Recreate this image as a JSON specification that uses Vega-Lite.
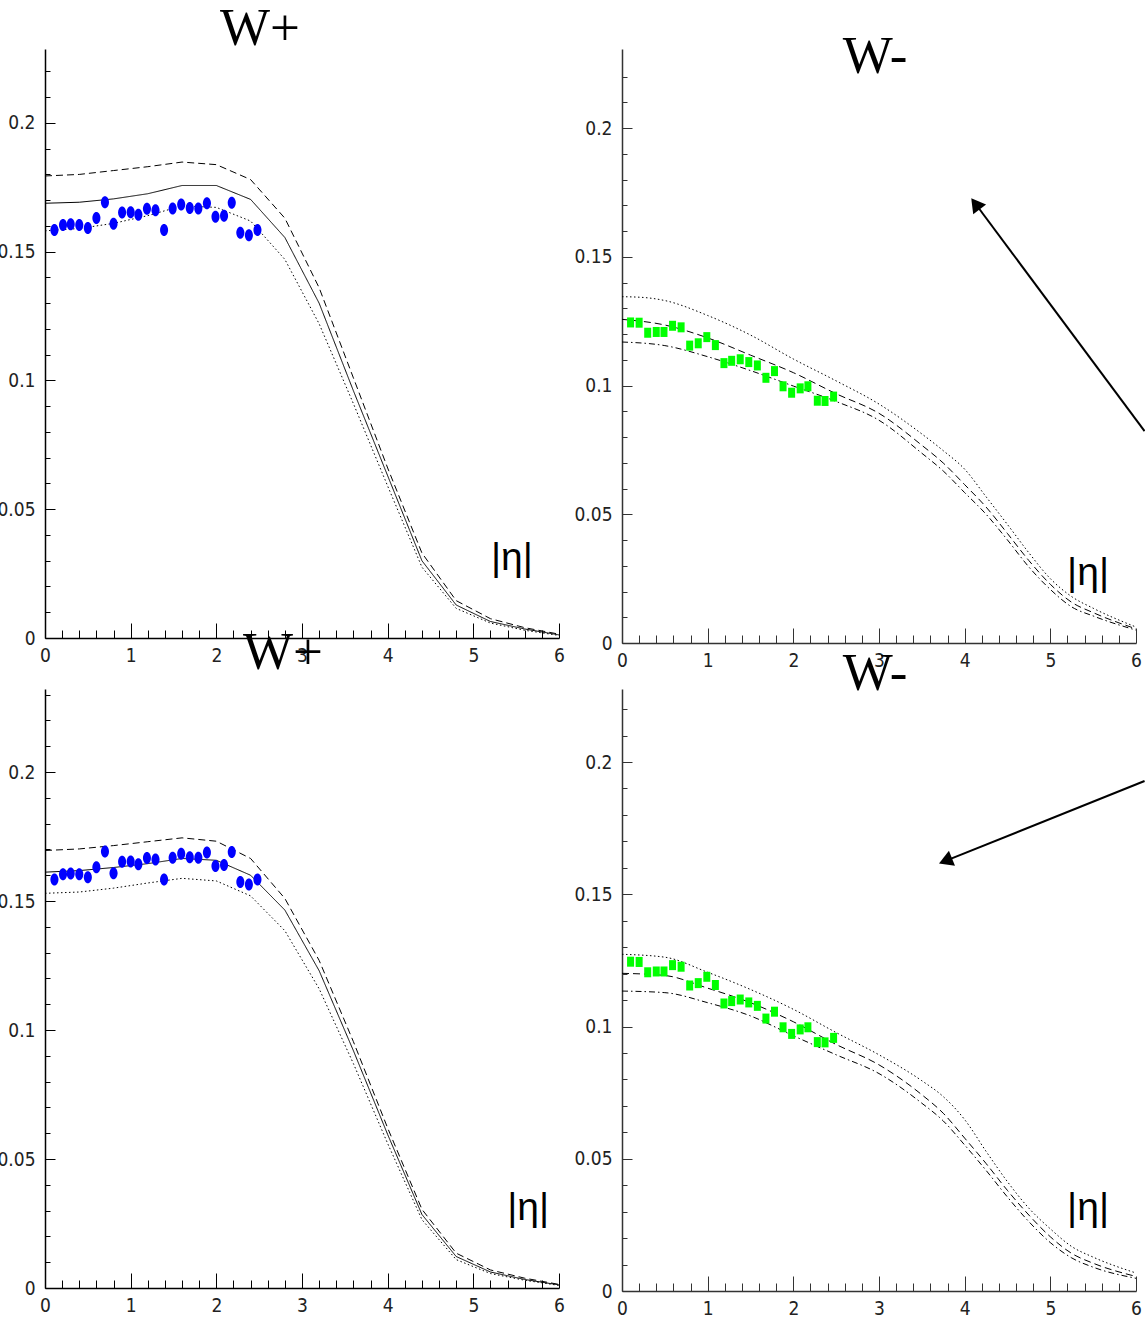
{
  "$schema": "https://vega.github.io/schema/vega-lite/v6.json",
  "padding": {"left": -4, "top": 3, "right": 0, "bottom": 0},
  "bounds": "flush",
  "columns": 2,
  "spacing": {"row": 46, "column": 63},
  "config": {"view": {"stroke": null}},
  "datasets": {
    "curves": [
      {"panel":"TL","series":"solid","eta":0,"v":0.1688},{"panel":"TL","series":"solid","eta":0.4,"v":0.1692},{"panel":"TL","series":"solid","eta":0.8,"v":0.1705},{"panel":"TL","series":"solid","eta":1.2,"v":0.1725},{"panel":"TL","series":"solid","eta":1.6,"v":0.1757},{"panel":"TL","series":"solid","eta":2.0,"v":0.1757},{"panel":"TL","series":"solid","eta":2.4,"v":0.1703},{"panel":"TL","series":"solid","eta":2.8,"v":0.1555},{"panel":"TL","series":"solid","eta":3.2,"v":0.130},{"panel":"TL","series":"solid","eta":3.6,"v":0.096},{"panel":"TL","series":"solid","eta":4.0,"v":0.063},{"panel":"TL","series":"solid","eta":4.4,"v":0.030},{"panel":"TL","series":"solid","eta":4.8,"v":0.0128},{"panel":"TL","series":"solid","eta":5.2,"v":0.0064},{"panel":"TL","series":"solid","eta":5.6,"v":0.0035},{"panel":"TL","series":"solid","eta":6.0,"v":0.0012},
      {"panel":"TL","series":"dashed","eta":0,"v":0.1794},{"panel":"TL","series":"dashed","eta":0.4,"v":0.18},{"panel":"TL","series":"dashed","eta":0.8,"v":0.1815},{"panel":"TL","series":"dashed","eta":1.2,"v":0.183},{"panel":"TL","series":"dashed","eta":1.6,"v":0.1848},{"panel":"TL","series":"dashed","eta":2.0,"v":0.1838},{"panel":"TL","series":"dashed","eta":2.4,"v":0.178},{"panel":"TL","series":"dashed","eta":2.8,"v":0.163},{"panel":"TL","series":"dashed","eta":3.2,"v":0.136},{"panel":"TL","series":"dashed","eta":3.6,"v":0.101},{"panel":"TL","series":"dashed","eta":4.0,"v":0.066},{"panel":"TL","series":"dashed","eta":4.4,"v":0.033},{"panel":"TL","series":"dashed","eta":4.8,"v":0.0145},{"panel":"TL","series":"dashed","eta":5.2,"v":0.0075},{"panel":"TL","series":"dashed","eta":5.6,"v":0.004},{"panel":"TL","series":"dashed","eta":6.0,"v":0.0015},
      {"panel":"TL","series":"dotted","eta":0,"v":0.1581},{"panel":"TL","series":"dotted","eta":0.4,"v":0.159},{"panel":"TL","series":"dotted","eta":0.8,"v":0.161},{"panel":"TL","series":"dotted","eta":1.2,"v":0.164},{"panel":"TL","series":"dotted","eta":1.6,"v":0.1678},{"panel":"TL","series":"dotted","eta":2.0,"v":0.1672},{"panel":"TL","series":"dotted","eta":2.4,"v":0.1619},{"panel":"TL","series":"dotted","eta":2.8,"v":0.147},{"panel":"TL","series":"dotted","eta":3.2,"v":0.122},{"panel":"TL","series":"dotted","eta":3.6,"v":0.091},{"panel":"TL","series":"dotted","eta":4.0,"v":0.059},{"panel":"TL","series":"dotted","eta":4.4,"v":0.0275},{"panel":"TL","series":"dotted","eta":4.8,"v":0.0115},{"panel":"TL","series":"dotted","eta":5.2,"v":0.0058},{"panel":"TL","series":"dotted","eta":5.6,"v":0.003},{"panel":"TL","series":"dotted","eta":6.0,"v":0.001},
      {"panel":"BL","series":"solid","eta":0,"v":0.1612},{"panel":"BL","series":"solid","eta":0.4,"v":0.1618},{"panel":"BL","series":"solid","eta":0.8,"v":0.163},{"panel":"BL","series":"solid","eta":1.2,"v":0.1645},{"panel":"BL","series":"solid","eta":1.6,"v":0.1665},{"panel":"BL","series":"solid","eta":2.0,"v":0.1658},{"panel":"BL","series":"solid","eta":2.4,"v":0.16},{"panel":"BL","series":"solid","eta":2.8,"v":0.1465},{"panel":"BL","series":"solid","eta":3.2,"v":0.123},{"panel":"BL","series":"solid","eta":3.6,"v":0.092},{"panel":"BL","series":"solid","eta":4.0,"v":0.0595},{"panel":"BL","series":"solid","eta":4.4,"v":0.0285},{"panel":"BL","series":"solid","eta":4.8,"v":0.0122},{"panel":"BL","series":"solid","eta":5.2,"v":0.0062},{"panel":"BL","series":"solid","eta":5.6,"v":0.0033},{"panel":"BL","series":"solid","eta":6.0,"v":0.0012},
      {"panel":"BL","series":"dashed","eta":0,"v":0.1696},{"panel":"BL","series":"dashed","eta":0.4,"v":0.1702},{"panel":"BL","series":"dashed","eta":0.8,"v":0.1715},{"panel":"BL","series":"dashed","eta":1.2,"v":0.173},{"panel":"BL","series":"dashed","eta":1.6,"v":0.1745},{"panel":"BL","series":"dashed","eta":2.0,"v":0.1732},{"panel":"BL","series":"dashed","eta":2.4,"v":0.1665},{"panel":"BL","series":"dashed","eta":2.8,"v":0.151},{"panel":"BL","series":"dashed","eta":3.2,"v":0.127},{"panel":"BL","series":"dashed","eta":3.6,"v":0.0955},{"panel":"BL","series":"dashed","eta":4.0,"v":0.062},{"panel":"BL","series":"dashed","eta":4.4,"v":0.0305},{"panel":"BL","series":"dashed","eta":4.8,"v":0.0135},{"panel":"BL","series":"dashed","eta":5.2,"v":0.007},{"panel":"BL","series":"dashed","eta":5.6,"v":0.0038},{"panel":"BL","series":"dashed","eta":6.0,"v":0.0014},
      {"panel":"BL","series":"dotted","eta":0,"v":0.153},{"panel":"BL","series":"dotted","eta":0.4,"v":0.1535},{"panel":"BL","series":"dotted","eta":0.8,"v":0.155},{"panel":"BL","series":"dotted","eta":1.2,"v":0.157},{"panel":"BL","series":"dotted","eta":1.6,"v":0.1588},{"panel":"BL","series":"dotted","eta":2.0,"v":0.1578},{"panel":"BL","series":"dotted","eta":2.4,"v":0.152},{"panel":"BL","series":"dotted","eta":2.8,"v":0.1385},{"panel":"BL","series":"dotted","eta":3.2,"v":0.116},{"panel":"BL","series":"dotted","eta":3.6,"v":0.087},{"panel":"BL","series":"dotted","eta":4.0,"v":0.056},{"panel":"BL","series":"dotted","eta":4.4,"v":0.0265},{"panel":"BL","series":"dotted","eta":4.8,"v":0.011},{"panel":"BL","series":"dotted","eta":5.2,"v":0.0056},{"panel":"BL","series":"dotted","eta":5.6,"v":0.003},{"panel":"BL","series":"dotted","eta":6.0,"v":0.001},
      {"panel":"TR","series":"dotted","eta":0,"v":0.1345},{"panel":"TR","series":"dotted","eta":0.25,"v":0.1342},{"panel":"TR","series":"dotted","eta":0.5,"v":0.133},{"panel":"TR","series":"dotted","eta":1.0,"v":0.1272},{"panel":"TR","series":"dotted","eta":1.5,"v":0.1196},{"panel":"TR","series":"dotted","eta":2.0,"v":0.1103},{"panel":"TR","series":"dotted","eta":2.5,"v":0.1018},{"panel":"TR","series":"dotted","eta":3.0,"v":0.0928},{"panel":"TR","series":"dotted","eta":3.5,"v":0.0812},{"panel":"TR","series":"dotted","eta":3.75,"v":0.0747},{"panel":"TR","series":"dotted","eta":4.0,"v":0.0675},{"panel":"TR","series":"dotted","eta":4.25,"v":0.0568},{"panel":"TR","series":"dotted","eta":4.5,"v":0.046},{"panel":"TR","series":"dotted","eta":4.75,"v":0.035},{"panel":"TR","series":"dotted","eta":5.0,"v":0.025},{"panel":"TR","series":"dotted","eta":5.25,"v":0.018},{"panel":"TR","series":"dotted","eta":5.5,"v":0.0135},{"panel":"TR","series":"dotted","eta":6.0,"v":0.0062},
      {"panel":"TR","series":"dashed","eta":0,"v":0.1257},{"panel":"TR","series":"dashed","eta":0.5,"v":0.1235},{"panel":"TR","series":"dashed","eta":1.0,"v":0.1185},{"panel":"TR","series":"dashed","eta":1.5,"v":0.1118},{"panel":"TR","series":"dashed","eta":2.0,"v":0.105},{"panel":"TR","series":"dashed","eta":2.5,"v":0.0968},{"panel":"TR","series":"dashed","eta":3.0,"v":0.0892},{"panel":"TR","series":"dashed","eta":3.5,"v":0.0768},{"panel":"TR","series":"dashed","eta":3.75,"v":0.0699},{"panel":"TR","series":"dashed","eta":4.0,"v":0.0615},{"panel":"TR","series":"dashed","eta":4.25,"v":0.0528},{"panel":"TR","series":"dashed","eta":4.5,"v":0.0425},{"panel":"TR","series":"dashed","eta":4.75,"v":0.032},{"panel":"TR","series":"dashed","eta":5.0,"v":0.0228},{"panel":"TR","series":"dashed","eta":5.25,"v":0.0158},{"panel":"TR","series":"dashed","eta":5.5,"v":0.0118},{"panel":"TR","series":"dashed","eta":6.0,"v":0.0055},
      {"panel":"TR","series":"dashdot","eta":0,"v":0.1169},{"panel":"TR","series":"dashdot","eta":0.5,"v":0.1155},{"panel":"TR","series":"dashdot","eta":1.0,"v":0.1112},{"panel":"TR","series":"dashdot","eta":1.5,"v":0.1058},{"panel":"TR","series":"dashdot","eta":2.0,"v":0.0998},{"panel":"TR","series":"dashdot","eta":2.5,"v":0.0938},{"panel":"TR","series":"dashdot","eta":3.0,"v":0.0865},{"panel":"TR","series":"dashdot","eta":3.5,"v":0.0737},{"panel":"TR","series":"dashdot","eta":3.75,"v":0.0668},{"panel":"TR","series":"dashdot","eta":4.0,"v":0.0584},{"panel":"TR","series":"dashdot","eta":4.25,"v":0.05},{"panel":"TR","series":"dashdot","eta":4.5,"v":0.04},{"panel":"TR","series":"dashdot","eta":4.75,"v":0.0295},{"panel":"TR","series":"dashdot","eta":5.0,"v":0.0208},{"panel":"TR","series":"dashdot","eta":5.25,"v":0.014},{"panel":"TR","series":"dashdot","eta":5.5,"v":0.0105},{"panel":"TR","series":"dashdot","eta":6.0,"v":0.005},
      {"panel":"BR","series":"dotted","eta":0,"v":0.1273},{"panel":"BR","series":"dotted","eta":0.5,"v":0.1262},{"panel":"BR","series":"dotted","eta":1.0,"v":0.1205},{"panel":"BR","series":"dotted","eta":1.5,"v":0.114},{"panel":"BR","series":"dotted","eta":2.0,"v":0.1065},{"panel":"BR","series":"dotted","eta":2.5,"v":0.0977},{"panel":"BR","series":"dotted","eta":3.0,"v":0.0893},{"panel":"BR","series":"dotted","eta":3.5,"v":0.0795},{"panel":"BR","series":"dotted","eta":3.75,"v":0.0735},{"panel":"BR","series":"dotted","eta":4.0,"v":0.0648},{"panel":"BR","series":"dotted","eta":4.25,"v":0.0528},{"panel":"BR","series":"dotted","eta":4.5,"v":0.0413},{"panel":"BR","series":"dotted","eta":4.75,"v":0.0313},{"panel":"BR","series":"dotted","eta":5.0,"v":0.0235},{"panel":"BR","series":"dotted","eta":5.25,"v":0.0168},{"panel":"BR","series":"dotted","eta":5.5,"v":0.0128},{"panel":"BR","series":"dotted","eta":6.0,"v":0.0068},
      {"panel":"BR","series":"dashed","eta":0,"v":0.1201},{"panel":"BR","series":"dashed","eta":0.5,"v":0.1193},{"panel":"BR","series":"dashed","eta":1.0,"v":0.1145},{"panel":"BR","series":"dashed","eta":1.5,"v":0.109},{"panel":"BR","series":"dashed","eta":2.0,"v":0.1018},{"panel":"BR","series":"dashed","eta":2.5,"v":0.0932},{"panel":"BR","series":"dashed","eta":3.0,"v":0.0855},{"panel":"BR","series":"dashed","eta":3.5,"v":0.0742},{"panel":"BR","series":"dashed","eta":3.75,"v":0.0672},{"panel":"BR","series":"dashed","eta":4.0,"v":0.0578},{"panel":"BR","series":"dashed","eta":4.25,"v":0.0482},{"panel":"BR","series":"dashed","eta":4.5,"v":0.038},{"panel":"BR","series":"dashed","eta":4.75,"v":0.0287},{"panel":"BR","series":"dashed","eta":5.0,"v":0.0205},{"panel":"BR","series":"dashed","eta":5.25,"v":0.0142},{"panel":"BR","series":"dashed","eta":5.5,"v":0.0105},{"panel":"BR","series":"dashed","eta":6.0,"v":0.0055},
      {"panel":"BR","series":"dashdot","eta":0,"v":0.1134},{"panel":"BR","series":"dashdot","eta":0.5,"v":0.1128},{"panel":"BR","series":"dashdot","eta":1.0,"v":0.109},{"panel":"BR","series":"dashdot","eta":1.5,"v":0.104},{"panel":"BR","series":"dashdot","eta":2.0,"v":0.0965},{"panel":"BR","series":"dashdot","eta":2.5,"v":0.0893},{"panel":"BR","series":"dashdot","eta":3.0,"v":0.0822},{"panel":"BR","series":"dashdot","eta":3.5,"v":0.071},{"panel":"BR","series":"dashdot","eta":3.75,"v":0.0643},{"panel":"BR","series":"dashdot","eta":4.0,"v":0.0552},{"panel":"BR","series":"dashdot","eta":4.25,"v":0.0456},{"panel":"BR","series":"dashdot","eta":4.5,"v":0.0355},{"panel":"BR","series":"dashdot","eta":4.75,"v":0.0262},{"panel":"BR","series":"dashdot","eta":5.0,"v":0.0183},{"panel":"BR","series":"dashdot","eta":5.25,"v":0.0125},{"panel":"BR","series":"dashdot","eta":5.5,"v":0.009},{"panel":"BR","series":"dashdot","eta":6.0,"v":0.0048}
    ],
    "wplus": [
      {"eta":0.11,"v":0.1584},{"eta":0.21,"v":0.1604},{"eta":0.30,"v":0.1607},{"eta":0.40,"v":0.1604},{"eta":0.50,"v":0.1592},{"eta":0.60,"v":0.1631},{"eta":0.70,"v":0.1692},{"eta":0.80,"v":0.1608},{"eta":0.90,"v":0.1652},{"eta":1.00,"v":0.1653},{"eta":1.09,"v":0.1643},{"eta":1.19,"v":0.1667},{"eta":1.29,"v":0.1661},{"eta":1.39,"v":0.1584},{"eta":1.49,"v":0.1668},{"eta":1.59,"v":0.1683},{"eta":1.69,"v":0.167},{"eta":1.79,"v":0.1668},{"eta":1.89,"v":0.1688},{"eta":1.99,"v":0.1636},{"eta":2.09,"v":0.164},{"eta":2.18,"v":0.169},{"eta":2.28,"v":0.1574},{"eta":2.38,"v":0.1564},{"eta":2.48,"v":0.1584}
    ],
    "wminus": [
      {"eta":0.10,"v":0.1245},{"eta":0.20,"v":0.1244},{"eta":0.30,"v":0.1205},{"eta":0.40,"v":0.1208},{"eta":0.49,"v":0.1208},{"eta":0.59,"v":0.1232},{"eta":0.69,"v":0.1226},{"eta":0.79,"v":0.1155},{"eta":0.89,"v":0.1164},{"eta":0.99,"v":0.1188},{"eta":1.09,"v":0.1157},{"eta":1.19,"v":0.1087},{"eta":1.28,"v":0.1096},{"eta":1.38,"v":0.1102},{"eta":1.48,"v":0.1091},{"eta":1.58,"v":0.1078},{"eta":1.68,"v":0.103},{"eta":1.78,"v":0.1056},{"eta":1.88,"v":0.0997},{"eta":1.98,"v":0.0972},{"eta":2.08,"v":0.0989},{"eta":2.17,"v":0.0997},{"eta":2.28,"v":0.0941},{"eta":2.37,"v":0.094},{"eta":2.47,"v":0.0957}
    ],
    "labels": [
      {"panel":"TL","eta":5.45,"v":0.031,"txt":"|η|"},
      {"panel":"TR","eta":5.44,"v":0.0272,"txt":"|η|"},
      {"panel":"BL","eta":5.64,"v":0.031,"txt":"|η|"},
      {"panel":"BR","eta":5.44,"v":0.0314,"txt":"|η|"}
    ],
    "arrows": [
      {"panel":"TR","x1":6.1,"y1":0.0823,"x2":4.126,"y2":0.1706},
      {"panel":"BR","x1":6.1,"y1":0.1928,"x2":3.776,"y2":0.1626}
    ]
  },
  "concat": [
    {
      "width": 514, "height": 589,
      "title": {"text": "W+", "font": "Liberation Serif", "fontSize": 53, "fontWeight": "normal", "color": "black", "baseline": "alphabetic", "anchor": "middle", "frame": "group", "offset": 3, "dy": 52, "dx": -42},
      "layer": [
        {"data": {"name": "curves"}, "transform": [{"filter": "datum.panel == 'TL'"}],
         "mark": {"type": "line", "color": "black", "strokeWidth": 1},
         "encoding": {
           "x": {"field": "eta", "type": "quantitative", "scale": {"domain": [0, 6], "nice": false, "zero": false},
             "axis": {"title": null, "grid": false, "tickCount": 1000, "values": [0,0.2,0.4,0.6,0.8,1,1.2,1.4,1.6,1.8,2,2.2,2.4,2.6,2.8,3,3.2,3.4,3.6,3.8,4,4.2,4.4,4.6,4.8,5,5.2,5.4,5.6,5.8,6],
               "domainColor": "black", "domainWidth": 1.5, "tickColor": "black", "tickWidth": 1,
               "tickSize": {"condition": {"test": "datum.value == round(datum.value)", "value": -15}, "value": -8},
               "labelExpr": "datum.value == round(datum.value) ? format(datum.value, 'd') : ''",
               "labelPadding": 23, "labelFont": "Liberation Sans Narrow, DejaVu Sans Condensed, sans-serif", "labelFontSize": 19, "labelColor": "#222",
               "labelFlush": false, "labelOverlap": false, "labelBound": false}},
           "y": {"field": "v", "type": "quantitative", "scale": {"domain": [0, 0.2287], "nice": false, "zero": false},
             "axis": {"title": null, "grid": false, "tickCount": 1000, "values": [0,0.01,0.02,0.03,0.04,0.05,0.06,0.07,0.08,0.09,0.1,0.11,0.12,0.13,0.14,0.15,0.16,0.17,0.18,0.19,0.2,0.21,0.22],
               "domainColor": "black", "domainWidth": 1.5, "tickColor": "black", "tickWidth": 1,
               "tickSize": {"condition": {"test": "abs(datum.value*20 - round(datum.value*20)) < 0.000001", "value": -10}, "value": -5},
               "labelExpr": "abs(datum.value*20 - round(datum.value*20)) < 0.000001 ? (datum.value == 0 ? '0' : format(datum.value, '.2~f')) : ''",
               "labelPadding": 20, "labelFont": "Liberation Sans Narrow, DejaVu Sans Condensed, sans-serif", "labelFontSize": 19, "labelColor": "#222",
               "labelFlush": false, "labelOverlap": false, "labelBound": false}},
           "detail": {"field": "series", "type": "nominal"},
           "strokeDash": {"field": "series", "type": "nominal", "legend": null,
             "scale": {"domain": ["solid","dashed","dotted","dashdot"], "range": [[1,0],[7,4],[1.5,2.5],[6,3,1.5,3]]}}
         }},
        {"data": {"name": "wplus"},
         "mark": {"type": "point", "filled": true, "opacity": 1, "color": "#0000ff", "size": 144, "shape": "M0,-1C0.37,-1 0.67,-0.55 0.67,0C0.67,0.55 0.37,1 0,1C-0.37,1 -0.67,0.55 -0.67,0C-0.67,-0.55 -0.37,-1 0,-1Z"},
         "encoding": {"x": {"field": "eta", "type": "quantitative"}, "y": {"field": "v", "type": "quantitative"}}},
        {"data": {"name": "labels"}, "transform": [{"filter": "datum.panel == 'TL'"}],
         "mark": {"type": "text", "font": "Liberation Sans", "fontSize": 39, "color": "black", "align": "center", "baseline": "middle"},
         "encoding": {"x": {"field": "eta", "type": "quantitative"}, "y": {"field": "v", "type": "quantitative"}, "text": {"field": "txt"}}},
        {"mark": {"type": "rule", "color": "black", "strokeWidth": 1.5},
         "encoding": {"x": {"datum": 6}}}
      ]
    },
    {
      "width": 514, "height": 594,
      "title": {"text": "W-", "font": "Liberation Serif", "fontSize": 53, "fontWeight": "normal", "color": "black", "baseline": "alphabetic", "anchor": "middle", "frame": "group", "offset": 0, "dy": 77, "dx": -4},
      "layer": [
        {"data": {"name": "curves"}, "transform": [{"filter": "datum.panel == 'TR'"}],
         "mark": {"type": "line", "color": "black", "strokeWidth": 1, "interpolate": "monotone"},
         "encoding": {
           "x": {"field": "eta", "type": "quantitative", "scale": {"domain": [0, 6], "nice": false, "zero": false},
             "axis": {"title": null, "grid": false, "tickCount": 1000, "values": [0,0.2,0.4,0.6,0.8,1,1.2,1.4,1.6,1.8,2,2.2,2.4,2.6,2.8,3,3.2,3.4,3.6,3.8,4,4.2,4.4,4.6,4.8,5,5.2,5.4,5.6,5.8,6],
               "domainColor": "#333", "domainWidth": 1.5, "tickColor": "#333", "tickWidth": 1,
               "tickSize": {"condition": {"test": "datum.value == round(datum.value)", "value": -15}, "value": -8},
               "labelExpr": "datum.value == round(datum.value) ? format(datum.value, 'd') : ''",
               "labelPadding": 23, "labelFont": "Liberation Sans Narrow, DejaVu Sans Condensed, sans-serif", "labelFontSize": 19, "labelColor": "#222",
               "labelFlush": false, "labelOverlap": false, "labelBound": false}},
           "y": {"field": "v", "type": "quantitative", "scale": {"domain": [0, 0.2307], "nice": false, "zero": false},
             "axis": {"title": null, "grid": false, "tickCount": 1000, "values": [0,0.01,0.02,0.03,0.04,0.05,0.06,0.07,0.08,0.09,0.1,0.11,0.12,0.13,0.14,0.15,0.16,0.17,0.18,0.19,0.2,0.21,0.22],
               "domainColor": "#333", "domainWidth": 1.5, "tickColor": "#333", "tickWidth": 1,
               "tickSize": {"condition": {"test": "abs(datum.value*20 - round(datum.value*20)) < 0.000001", "value": -10}, "value": -5},
               "labelExpr": "abs(datum.value*20 - round(datum.value*20)) < 0.000001 ? (datum.value == 0 ? '0' : format(datum.value, '.2~f')) : ''",
               "labelPadding": 20, "labelFont": "Liberation Sans Narrow, DejaVu Sans Condensed, sans-serif", "labelFontSize": 19, "labelColor": "#222",
               "labelFlush": false, "labelOverlap": false, "labelBound": false}},
           "detail": {"field": "series", "type": "nominal"},
           "strokeDash": {"field": "series", "type": "nominal", "legend": null,
             "scale": {"domain": ["solid","dashed","dotted","dashdot"], "range": [[1,0],[5,4],[1.5,2.5],[5,2.5,1.5,2.5]]}}
         }},
        {"data": {"name": "wminus"},
         "mark": {"type": "point", "filled": true, "opacity": 1, "color": "#00ff00", "size": 100, "shape": "M-0.7,-1H0.7V1H-0.7Z"},
         "encoding": {"x": {"field": "eta", "type": "quantitative"}, "y": {"field": "v", "type": "quantitative"}}},
        {"data": {"name": "labels"}, "transform": [{"filter": "datum.panel == 'TR'"}],
         "mark": {"type": "text", "font": "Liberation Sans", "fontSize": 39, "color": "black", "align": "center", "baseline": "middle"},
         "encoding": {"x": {"field": "eta", "type": "quantitative"}, "y": {"field": "v", "type": "quantitative"}, "text": {"field": "txt"}}},
        {"mark": {"type": "rule", "color": "#555", "strokeWidth": 1.5},
         "encoding": {"x": {"datum": 6}}},
        {"data": {"name": "arrows"}, "transform": [{"filter": "datum.panel == 'TR'"}],
         "mark": {"type": "rule", "color": "black", "strokeWidth": 2},
         "encoding": {"x": {"field": "x1", "type": "quantitative"}, "y": {"field": "y1", "type": "quantitative"}, "x2": {"field": "x2"}, "y2": {"field": "y2"}}},
        {"data": {"name": "arrows"}, "transform": [{"filter": "datum.panel == 'TR'"}],
         "mark": {"type": "point", "shape": "triangle-up", "filled": true, "opacity": 1, "color": "black", "size": 260, "angle": 323},
         "encoding": {"x": {"field": "x2", "type": "quantitative"}, "y": {"field": "y2", "type": "quantitative"}}}
      ]
    },
    {
      "width": 514, "height": 599,
      "title": {"text": "W+", "font": "Liberation Serif", "fontSize": 53, "fontWeight": "normal", "color": "black", "baseline": "alphabetic", "anchor": "middle", "frame": "group", "offset": 16, "dy": 52, "dx": -19},
      "layer": [
        {"data": {"name": "curves"}, "transform": [{"filter": "datum.panel == 'BL'"}],
         "mark": {"type": "line", "color": "black", "strokeWidth": 1},
         "encoding": {
           "x": {"field": "eta", "type": "quantitative", "scale": {"domain": [0, 6], "nice": false, "zero": false},
             "axis": {"title": null, "grid": false, "tickCount": 1000, "values": [0,0.2,0.4,0.6,0.8,1,1.2,1.4,1.6,1.8,2,2.2,2.4,2.6,2.8,3,3.2,3.4,3.6,3.8,4,4.2,4.4,4.6,4.8,5,5.2,5.4,5.6,5.8,6],
               "domainColor": "black", "domainWidth": 1.5, "tickColor": "black", "tickWidth": 1,
               "tickSize": {"condition": {"test": "datum.value == round(datum.value)", "value": -15}, "value": -8},
               "labelExpr": "datum.value == round(datum.value) ? format(datum.value, 'd') : ''",
               "labelPadding": 23, "labelFont": "Liberation Sans Narrow, DejaVu Sans Condensed, sans-serif", "labelFontSize": 19, "labelColor": "#222",
               "labelFlush": false, "labelOverlap": false, "labelBound": false}},
           "y": {"field": "v", "type": "quantitative", "scale": {"domain": [0, 0.2322], "nice": false, "zero": false},
             "axis": {"title": null, "grid": false, "tickCount": 1000, "values": [0,0.01,0.02,0.03,0.04,0.05,0.06,0.07,0.08,0.09,0.1,0.11,0.12,0.13,0.14,0.15,0.16,0.17,0.18,0.19,0.2,0.21,0.22,0.23],
               "domainColor": "black", "domainWidth": 1.5, "tickColor": "black", "tickWidth": 1,
               "tickSize": {"condition": {"test": "abs(datum.value*20 - round(datum.value*20)) < 0.000001", "value": -10}, "value": -5},
               "labelExpr": "abs(datum.value*20 - round(datum.value*20)) < 0.000001 ? (datum.value == 0 ? '0' : format(datum.value, '.2~f')) : ''",
               "labelPadding": 20, "labelFont": "Liberation Sans Narrow, DejaVu Sans Condensed, sans-serif", "labelFontSize": 19, "labelColor": "#222",
               "labelFlush": false, "labelOverlap": false, "labelBound": false}},
           "detail": {"field": "series", "type": "nominal"},
           "strokeDash": {"field": "series", "type": "nominal", "legend": null,
             "scale": {"domain": ["solid","dashed","dotted","dashdot"], "range": [[1,0],[7,4],[1.5,2.5],[6,3,1.5,3]]}}
         }},
        {"data": {"name": "wplus"},
         "mark": {"type": "point", "filled": true, "opacity": 1, "color": "#0000ff", "size": 144, "shape": "M0,-1C0.37,-1 0.67,-0.55 0.67,0C0.67,0.55 0.37,1 0,1C-0.37,1 -0.67,0.55 -0.67,0C-0.67,-0.55 -0.37,-1 0,-1Z"},
         "encoding": {"x": {"field": "eta", "type": "quantitative"}, "y": {"field": "v", "type": "quantitative"}}},
        {"data": {"name": "labels"}, "transform": [{"filter": "datum.panel == 'BL'"}],
         "mark": {"type": "text", "font": "Liberation Sans", "fontSize": 39, "color": "black", "align": "center", "baseline": "middle"},
         "encoding": {"x": {"field": "eta", "type": "quantitative"}, "y": {"field": "v", "type": "quantitative"}, "text": {"field": "txt"}}},
        {"mark": {"type": "rule", "color": "black", "strokeWidth": 1.5},
         "encoding": {"x": {"datum": 6}}}
      ]
    },
    {
      "width": 514, "height": 602,
      "title": {"text": "W-", "font": "Liberation Serif", "fontSize": 53, "fontWeight": "normal", "color": "black", "baseline": "alphabetic", "anchor": "middle", "frame": "group", "offset": 0, "dy": 54, "dx": -4},
      "layer": [
        {"data": {"name": "curves"}, "transform": [{"filter": "datum.panel == 'BR'"}],
         "mark": {"type": "line", "color": "black", "strokeWidth": 1, "interpolate": "monotone"},
         "encoding": {
           "x": {"field": "eta", "type": "quantitative", "scale": {"domain": [0, 6], "nice": false, "zero": false},
             "axis": {"title": null, "grid": false, "tickCount": 1000, "values": [0,0.2,0.4,0.6,0.8,1,1.2,1.4,1.6,1.8,2,2.2,2.4,2.6,2.8,3,3.2,3.4,3.6,3.8,4,4.2,4.4,4.6,4.8,5,5.2,5.4,5.6,5.8,6],
               "domainColor": "#333", "domainWidth": 1.5, "tickColor": "#333", "tickWidth": 1,
               "tickSize": {"condition": {"test": "datum.value == round(datum.value)", "value": -15}, "value": -8},
               "labelExpr": "datum.value == round(datum.value) ? format(datum.value, 'd') : ''",
               "labelPadding": 23, "labelFont": "Liberation Sans Narrow, DejaVu Sans Condensed, sans-serif", "labelFontSize": 19, "labelColor": "#222",
               "labelFlush": false, "labelOverlap": false, "labelBound": false}},
           "y": {"field": "v", "type": "quantitative", "scale": {"domain": [0, 0.2276], "nice": false, "zero": false},
             "axis": {"title": null, "grid": false, "tickCount": 1000, "values": [0,0.01,0.02,0.03,0.04,0.05,0.06,0.07,0.08,0.09,0.1,0.11,0.12,0.13,0.14,0.15,0.16,0.17,0.18,0.19,0.2,0.21,0.22],
               "domainColor": "#333", "domainWidth": 1.5, "tickColor": "#333", "tickWidth": 1,
               "tickSize": {"condition": {"test": "abs(datum.value*20 - round(datum.value*20)) < 0.000001", "value": -10}, "value": -5},
               "labelExpr": "abs(datum.value*20 - round(datum.value*20)) < 0.000001 ? (datum.value == 0 ? '0' : format(datum.value, '.2~f')) : ''",
               "labelPadding": 20, "labelFont": "Liberation Sans Narrow, DejaVu Sans Condensed, sans-serif", "labelFontSize": 19, "labelColor": "#222",
               "labelFlush": false, "labelOverlap": false, "labelBound": false}},
           "detail": {"field": "series", "type": "nominal"},
           "strokeDash": {"field": "series", "type": "nominal", "legend": null,
             "scale": {"domain": ["solid","dashed","dotted","dashdot"], "range": [[1,0],[5,4],[1.5,2.5],[5,2.5,1.5,2.5]]}}
         }},
        {"data": {"name": "wminus"},
         "mark": {"type": "point", "filled": true, "opacity": 1, "color": "#00ff00", "size": 100, "shape": "M-0.7,-1H0.7V1H-0.7Z"},
         "encoding": {"x": {"field": "eta", "type": "quantitative"}, "y": {"field": "v", "type": "quantitative"}}},
        {"data": {"name": "labels"}, "transform": [{"filter": "datum.panel == 'BR'"}],
         "mark": {"type": "text", "font": "Liberation Sans", "fontSize": 39, "color": "black", "align": "center", "baseline": "middle"},
         "encoding": {"x": {"field": "eta", "type": "quantitative"}, "y": {"field": "v", "type": "quantitative"}, "text": {"field": "txt"}}},
        {"mark": {"type": "rule", "color": "#555", "strokeWidth": 1.5},
         "encoding": {"x": {"datum": 6}}},
        {"data": {"name": "arrows"}, "transform": [{"filter": "datum.panel == 'BR'"}],
         "mark": {"type": "rule", "color": "black", "strokeWidth": 2},
         "encoding": {"x": {"field": "x1", "type": "quantitative"}, "y": {"field": "y1", "type": "quantitative"}, "x2": {"field": "x2"}, "y2": {"field": "y2"}}},
        {"data": {"name": "arrows"}, "transform": [{"filter": "datum.panel == 'BR'"}],
         "mark": {"type": "point", "shape": "triangle-up", "filled": true, "opacity": 1, "color": "black", "size": 260, "angle": 248},
         "encoding": {"x": {"field": "x2", "type": "quantitative"}, "y": {"field": "y2", "type": "quantitative"}}}
      ]
    }
  ]
}
